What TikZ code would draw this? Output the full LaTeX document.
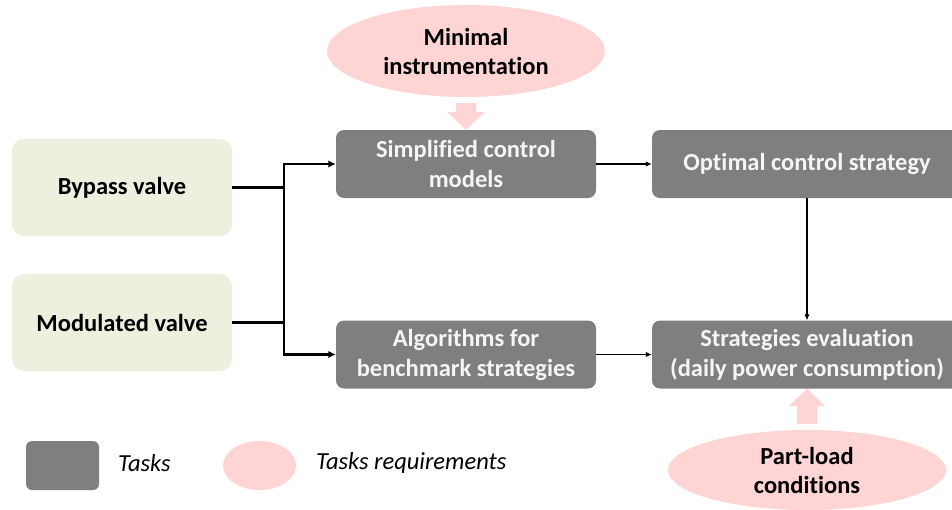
\documentclass[tikz,border=0pt]{standalone}
\usepackage{fontspec}
\setmainfont[Ligatures=NoCommon]{Carlito}
\usetikzlibrary{shapes.geometric,arrows.meta}
\definecolor{boxgreen}{RGB}{235,241,222}
\definecolor{taskgray}{RGB}{127,127,127}
\definecolor{reqpink}{RGB}{255,212,212}
\definecolor{offwhite}{RGB}{245,245,245}
\begin{document}
\begin{tikzpicture}[x=1pt,y=-1pt,
  inbox/.style={fill=boxgreen,rounded corners=12pt,minimum width=220pt,minimum height=97pt,
    font=\fontsize{24.5}{30}\selectfont\bfseries,align=center,inner sep=0pt},
  task/.style={fill=taskgray,rounded corners=8pt,minimum height=68pt,text=offwhite,
    font=\fontsize{24.5}{30}\selectfont\bfseries,align=center,inner sep=0pt},
  req/.style={ellipse,fill=reqpink,inner sep=0pt,
    font=\fontsize{24.5}{29}\selectfont\bfseries,align=center},
  line/.style={line width=2.5pt},
  arrL/.style={line width=2.5pt,-{Latex[length=7.5pt,width=7.5pt]}},
  arr/.style={line width=1.7pt,-{Latex[length=6pt,width=5.5pt]}},
  legtext/.style={font=\fontsize{24.5}{28}\selectfont\itshape,anchor=west,inner sep=0pt}]
\useasboundingbox (0,0) rectangle (952,509);
% input boxes
\node[inbox] (bypass) at (122,187.5) {Bypass valve};
\node[inbox] (mod) at (122,322.5) {Modulated valve};
% tasks
\node[task,minimum width=260pt] (simp) at (466,164) {Simplified control\\models};
\node[task,minimum width=310pt] (opt) at (807,164) {Optimal control strategy};
\node[task,minimum width=260pt] (alg) at (466,354.5) {Algorithms for\\benchmark strategies};
\node[task,minimum width=310pt] (eval) at (807,354.5) {Strategies evaluation\\(daily power consumption)};
% requirements
\node[req,minimum width=278pt,minimum height=92pt] (minr) at (466,51) {Minimal\\instrumentation};
\node[req,minimum width=278pt,minimum height=80pt] (part) at (807,470) {Part-load\\conditions};
% block arrows
\fill[reqpink] ([xshift=-10pt,yshift=-6pt]minr.south) -- ([xshift=-10pt]simp.north |- 0,112)
  -- ([xshift=-19pt]simp.north |- 0,112) -- (simp.north) -- ([xshift=19pt]simp.north |- 0,112)
  -- ([xshift=10pt]simp.north |- 0,112) -- ([xshift=10pt,yshift=-6pt]minr.south) -- cycle;
\fill[reqpink] ([xshift=-10pt,yshift=6pt]part.north) -- ([xshift=-10pt]eval.south |- 0,406)
  -- ([xshift=-18pt]eval.south |- 0,406) -- (eval.south) -- ([xshift=18pt]eval.south |- 0,406)
  -- ([xshift=10pt]eval.south |- 0,406) -- ([xshift=10pt,yshift=6pt]part.north) -- cycle;
% connectors
\coordinate (j) at (284,0);
\draw[line] (bypass.east) -- (bypass.east -| j);
\draw[line] (mod.east) -- (mod.east -| j);
\draw[arrL] (alg.west -| j) |- (simp.west);
\draw[arrL] (simp.west -| j) |- (alg.west);
\draw[arr] (simp.east) -- (opt.west);
\draw[arr] (alg.east) -- (eval.west);
\draw[arr] (opt.south) -- (eval.north);
% legend
\node[fill=taskgray,rounded corners=6pt,minimum width=73pt,minimum height=49pt,inner sep=0pt] (legtask) at (62.5,465.5) {};
\node[legtext] (legtasktxt) at (118,463) {Tasks};
\node[ellipse,fill=reqpink,minimum width=73pt,minimum height=49pt,inner sep=0pt] (legreq) at (259.5,465.5) {};
\node[legtext] (legreqtxt) at (316,463) {Tasks requirements};
\end{tikzpicture}
\end{document}
